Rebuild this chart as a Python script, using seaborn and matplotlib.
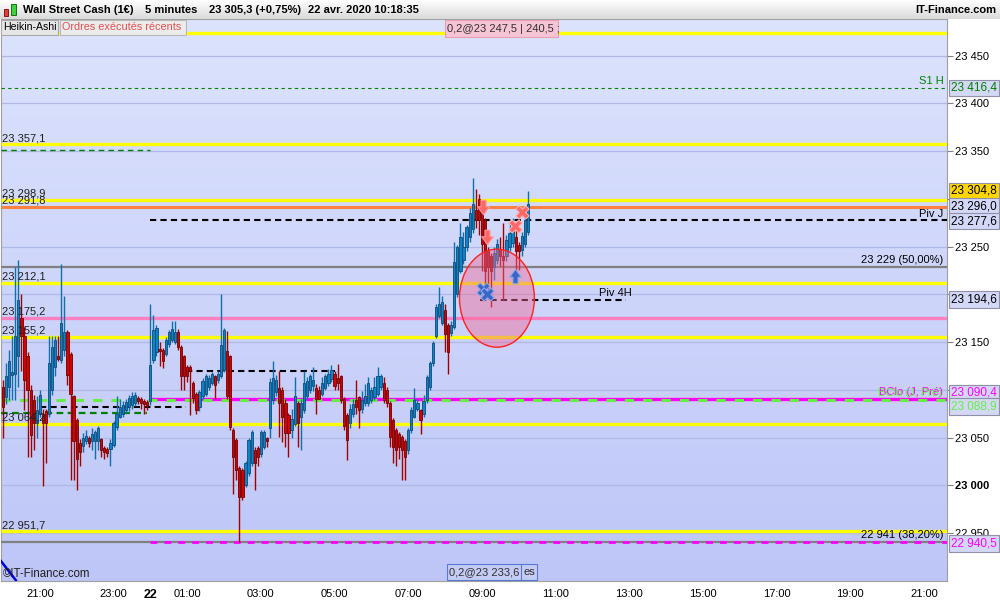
import numpy as np
import pandas as pd
import matplotlib
matplotlib.use("Agg")
import matplotlib.pyplot as plt
import seaborn as sns
from matplotlib.patches import Ellipse, Rectangle
from matplotlib.colors import LinearSegmentedColormap
from matplotlib.path import Path
import matplotlib.transforms as mtransforms

sns.set_style("white")
plt.rcParams['font.family'] = ['Liberation Sans', 'DejaVu Sans']

# ---------------- data (Heikin-Ashi 5-minute candles, 20:00 -> 10:15) ----------------
opens = [23103, 23092, 23103, 23116, 23117, 23135, 23175, 23156, 23135, 23100,
         23089, 23065, 23075, 23075, 23078, 23075, 23100, 23124, 23135, 23131,
         23142, 23161, 23138, 23093, 23068, 23044, 23041, 23046, 23049, 23046,
         23046, 23046, 23048, 23039, 23038, 23038, 23042, 23061, 23072, 23075,
         23079, 23082, 23084, 23086, 23091, 23090, 23088, 23087, 23088, 23131,
         23140, 23143, 23142, 23138, 23148, 23152, 23150, 23161, 23145, 23135,
         23124, 23124, 23107, 23096, 23082, 23093, 23096, 23103, 23107, 23114,
         23110, 23114, 23121, 23141, 23135, 23058, 23047, 23018, 23016, 23000,
         23013, 23023, 23037, 23039, 23033, 23040, 23049, 23060, 23089, 23098,
         23102, 23100, 23086, 23074, 23058, 23064, 23086, 23072, 23079, 23093,
         23100, 23104, 23102, 23100, 23096, 23102, 23107, 23111, 23117, 23112,
         23114, 23090, 23074, 23065, 23075, 23089, 23092, 23080, 23086, 23086,
         23089, 23092, 23096, 23103, 23107, 23100, 23086, 23068, 23058, 23054,
         23051, 23046, 23037, 23058, 23072, 23080, 23079, 23075, 23089, 23103,
         23128, 23156, 23177, 23170, 23184, 23168, 23160, 23166, 23200, 23225,
         23236, 23250, 23260, 23268, 23288, 23300, 23288, 23278, 23247, 23240,
         23229, 23236, 23246, 23240, 23240, 23250, 23254, 23260, 23252, 23247,
         23253, 23265]
closes = [23082, 23114, 23130, 23119, 23156, 23194, 23156, 23110, 23100, 23053,
          23065, 23079, 23095, 23065, 23065, 23128, 23145, 23152, 23132, 23170,
          23161, 23115, 23096, 23046, 23027, 23035, 23049, 23052, 23044, 23054,
          23056, 23060, 23037, 23035, 23034, 23044, 23065, 23075, 23082, 23084,
          23087, 23091, 23093, 23095, 23088, 23086, 23085, 23084, 23126, 23163,
          23165, 23141, 23130, 23152, 23161, 23164, 23161, 23145, 23114, 23114,
          23114, 23120, 23091, 23079, 23098, 23109, 23114, 23112, 23117, 23105,
          23117, 23147, 23163, 23093, 23061, 23030, 23016, 22988, 22988, 23023,
          23047, 23056, 23023, 23030, 23056, 23056, 23046, 23108, 23112, 23110,
          23086, 23072, 23055, 23055, 23069, 23093, 23065, 23086, 23107, 23109,
          23114, 23110, 23090, 23090, 23107, 23114, 23117, 23121, 23104, 23107,
          23089, 23062, 23047, 23080, 23085, 23082, 23079, 23089, 23093, 23107,
          23100, 23103, 23114, 23114, 23089, 23086, 23051, 23040, 23037, 23040,
          23037, 23030, 23058, 23079, 23089, 23086, 23068, 23088, 23113, 23128,
          23149, 23187, 23190, 23192, 23159, 23140, 23168, 23234, 23250, 23260,
          23250, 23271, 23285, 23295, 23278, 23278, 23253, 23225, 23229, 23225,
          23243, 23253, 23240, 23236, 23257, 23264, 23267, 23245, 23245, 23261,
          23278, 23295]
highs = [23110, 23128, 23142, 23156, 23229, 23236, 23200, 23166, 23140, 23105,
         23095, 23093, 23100, 23080, 23080, 23156, 23156, 23156, 23156, 23232,
         23198, 23163, 23140, 23095, 23070, 23048, 23055, 23058, 23052, 23060,
         23058, 23062, 23050, 23041, 23040, 23048, 23067, 23093, 23090, 23088,
         23090, 23095, 23098, 23098, 23094, 23092, 23090, 23089, 23190, 23178,
         23168, 23150, 23144, 23155, 23163, 23172, 23172, 23164, 23147, 23137,
         23126, 23126, 23109, 23098, 23100, 23112, 23117, 23115, 23119, 23116,
         23120, 23200, 23165, 23162, 23137, 23060, 23049, 23020, 23018, 23025,
         23050, 23058, 23040, 23041, 23058, 23058, 23051, 23112, 23130, 23115,
         23120, 23103, 23090, 23076, 23080, 23113, 23088, 23090, 23120, 23113,
         23117, 23124, 23106, 23104, 23113, 23117, 23122, 23126, 23120, 23127,
         23116, 23092, 23076, 23085, 23090, 23110, 23094, 23099, 23106, 23113,
         23103, 23113, 23124, 23117, 23113, 23103, 23088, 23070, 23060, 23056,
         23053, 23048, 23060, 23082, 23102, 23090, 23080, 23095, 23116, 23130,
         23151, 23190, 23208, 23198, 23190, 23170, 23172, 23255, 23252, 23275,
         23265, 23273, 23290, 23322, 23310, 23305, 23295, 23280, 23250, 23243,
         23250, 23258, 23260, 23275, 23262, 23275, 23280, 23270, 23255, 23265,
         23290, 23308]
lows = [23050, 23085, 23089, 23089, 23089, 23103, 23120, 23079, 23030, 23030,
        23037, 23050, 23072, 22999, 23023, 23072, 23095, 23114, 23130, 23128,
        23135, 23105, 23005, 23005, 22995, 23020, 23035, 23043, 23040, 23037,
        23027, 23037, 23030, 23028, 23030, 23020, 23040, 23058, 23070, 23072,
        23076, 23078, 23080, 23083, 23085, 23080, 23075, 23079, 23084, 23128,
        23135, 23125, 23123, 23135, 23145, 23150, 23148, 23142, 23100, 23100,
        23108, 23074, 23086, 23075, 23078, 23090, 23094, 23100, 23105, 23090,
        23107, 23112, 23119, 23090, 23058, 22991, 23005, 22941, 22985, 22998,
        23010, 23020, 22995, 23020, 23030, 23038, 23040, 23050, 23085, 23093,
        23051, 23045, 23040, 23030, 23050, 23062, 23040, 23037, 23076, 23090,
        23097, 23099, 23075, 23090, 23094, 23100, 23104, 23108, 23100, 23100,
        23086, 23058, 23026, 23060, 23072, 23075, 23060, 23076, 23083, 23083,
        23086, 23089, 23094, 23100, 23086, 23082, 23040, 23023, 23020, 23028,
        23005, 23006, 23033, 23055, 23070, 23078, 23054, 23072, 23086, 23100,
        23125, 23154, 23175, 23168, 23140, 23117, 23156, 23164, 23197, 23222,
        23232, 23245, 23255, 23264, 23270, 23262, 23225, 23211, 23195, 23187,
        23215, 23232, 23230, 23194, 23235, 23245, 23250, 23220, 23226, 23240,
        23250, 23262]

tick_pos = [12, 36, 48, 60, 84, 108, 132, 156, 180, 204, 228, 252, 276, 300]
tick_labels = ["21:00", "23:00", "22", "01:00", "03:00", "05:00", "07:00",
               "09:00", "11:00", "13:00", "15:00", "17:00", "19:00", "21:00"]
price_ticks = [22950, 23000, 23050, 23100, 23150, 23200, 23250, 23300, 23350, 23400, 23450]
hidden_price_ticks = [23100, 23200, 23300]   # covered by the price boxes in the original

yellow_levels = [23474.0, 23357.1, 23298.9, 23212.1, 23155.2, 23064.2, 22951.7]
yellow_labeled = [23357.1, 23298.9, 23212.1, 23155.2, 23064.2, 22951.7]
orange_level = 23291.8
pink_level = 23175.2
s1h_level = 23416.4
piv_j = 23277.6
fib50 = 23229.0
fib38 = 22941.0
piv_4h = 23194.6
bclo_mag = 23090.4
bclo_green = 23088.9
mag_dash = 22940.5
black_dash_a = 23120.0
black_dash_b = 23082.0
green_dash_a = 23351.0
green_dash_b = 23076.0
last_price = 23304.8
other_price = 23296.0

sell_arrow_t = [156.4, 157.6]
sell_arrow_p = [23292.0, 23260.0]
sell_cross_t = [166.8, 169.0]
sell_cross_p = [23272.0, 23286.0]
buy_cross_t = [156.4, 157.7]
buy_cross_p = [23206.0, 23200.0]
buy_arrow_t = [166.8]
buy_arrow_p = [23219.0]
trend_t = [-1.0, 4.3]
trend_p = [22922.0, 22900.0]

n = len(opens)
assert len(closes) == n and len(highs) == n and len(lows) == n
df = pd.DataFrame({"t": np.arange(n), "open": opens, "high": highs, "low": lows, "close": closes})
df["up"] = df["close"] >= df["open"]

def fr(v, dec=1):
    s = f"{v:,.{dec}f}"
    return s.replace(",", " ").replace(".", ",")

# ---------------- figure ----------------
W, H = 1000, 600
fig = plt.figure(figsize=(10, 6), dpi=100)
fig.patch.set_facecolor("white")

XMIN, XMAX = -0.65, 307.5
YMIN, YMAX = 22899.7, 23488.5
ax = fig.add_axes([1 / W, 1 - 581 / H, 946 / W, (581 - 19) / H])

grad = np.linspace(0, 1, 256).reshape(-1, 1)
bg_cmap = LinearSegmentedColormap.from_list("bg", ["#dce3fd", "#bec6f8"])
ax.imshow(grad, extent=[XMIN, XMAX, YMIN, YMAX], aspect="auto", cmap=bg_cmap,
          origin="upper", zorder=0, interpolation="bilinear")

for v in price_ticks:
    ax.axhline(v, color="#b0b8e6", lw=0.9, zorder=1)

full = (XMIN, XMAX)
# levels
for v in yellow_levels:
    ax.hlines(v, *full, color="#ffff00", lw=2.4, zorder=3)
ax.hlines(orange_level, *full, color="#ff8040", lw=2.2, zorder=3)
ax.hlines(pink_level, *full, color="#ff80c0", lw=2.4, zorder=3)
ax.hlines(fib50, *full, color="#808080", lw=1.6, zorder=3)
ax.hlines(fib38, *full, color="#808080", lw=1.6, zorder=3)
ax.hlines(s1h_level, *full, color="#008000", lw=0.8, linestyles=(0, (3, 3)), zorder=3)
ax.hlines(green_dash_a, XMIN, 48, color="#008000", lw=1.0, linestyles=(0, (4, 3)), zorder=3)
ax.hlines(green_dash_b, XMIN, 47, color="#008000", lw=1.6, linestyles=(0, (3, 2)), zorder=3)
ax.hlines(black_dash_b, 12, 59.5, color="black", lw=1.5, linestyles=(0, (3, 2)), zorder=3)
ax.hlines(black_dash_a, 59.5, 108, color="black", lw=1.5, linestyles=(0, (3, 2)), zorder=3)
ax.hlines(piv_j, 48, XMAX, color="black", lw=1.5, linestyles=(0, (3, 2)), zorder=3)
ax.hlines(piv_4h, 155.3, 203, color="black", lw=1.5, linestyles=(0, (3, 2)), zorder=3)
ax.hlines(bclo_mag, 48, XMAX, color="#ff00ff", lw=2.4, zorder=3)
ax.hlines(bclo_green, *full, color="#66ee44", lw=2.2, linestyles=(0, (3, 3)), zorder=3)
ax.hlines(mag_dash, 48, XMAX, color="#ff00ff", lw=2.0, linestyles=(0, (2.5, 2.5)), zorder=3)
ax.plot(trend_t, trend_p, color="#0000e0", lw=1.8, zorder=3)

# candles
up = df[df.up]
dn = df[~df.up]
ax.vlines(up.t, up.low, up.high, color="#1070a8", lw=1.0, zorder=4)
ax.vlines(dn.t, dn.low, dn.high, color="#a00000", lw=1.0, zorder=4)
ax.bar(up.t, (up.close - up.open).clip(lower=0.8), bottom=up.open, width=0.72,
       color="#0a84c8", edgecolor="#104a78", linewidth=0.6, zorder=5)
ax.bar(dn.t, (dn.open - dn.close).clip(lower=0.8), bottom=dn.close, width=0.72,
       color="#d40000", edgecolor="#700000", linewidth=0.6, zorder=5)

# ellipse
ax.add_patch(Ellipse((160.9, 23196.0), 24.4, 102.7, facecolor="#f06a94", alpha=0.45,
                     edgecolor="none", zorder=6))
ax.add_patch(Ellipse((160.9, 23196.0), 24.4, 102.7, facecolor="none",
                     edgecolor="#ff2020", lw=1.0, zorder=6))

down_arrow = Path([(-0.35, 1), (0.35, 1), (0.35, 0.1), (0.8, 0.1), (0, -1),
                   (-0.8, 0.1), (-0.35, 0.1), (-0.35, 1)], closed=True)
up_arrow = Path([(-0.35, -1), (0.35, -1), (0.35, -0.1), (0.8, -0.1), (0, 1),
                 (-0.8, -0.1), (-0.35, -0.1), (-0.35, -1)], closed=True)
sns.scatterplot(x=sell_arrow_t, y=sell_arrow_p, marker=down_arrow, s=110, color="#ff6868",
                edgecolor="#ff9a9a", linewidth=0.8, ax=ax, zorder=8)
sns.scatterplot(x=sell_cross_t, y=sell_cross_p, marker="X", s=90, color="#ff6868",
                edgecolor="#ffb0b0", linewidth=0.8, ax=ax, zorder=8)
sns.scatterplot(x=buy_cross_t, y=buy_cross_p, marker="X", s=90, color="#3a66c8",
                edgecolor="#90a8e8", linewidth=0.8, ax=ax, zorder=8)
sns.scatterplot(x=buy_arrow_t, y=buy_arrow_p, marker=up_arrow, s=110, color="#3a66c8",
                edgecolor="#90a8e8", linewidth=0.8, ax=ax, zorder=8)

# left level labels
fs = 8
for v in yellow_labeled + [orange_level, pink_level]:
    ax.text(-0.3, v + 1.2, fr(v), fontsize=fs, color="#202020", ha="left", va="bottom", zorder=9)

# right-end line labels
ax.text(306.3, s1h_level + 1.5, "S1 H", fontsize=fs, color="#008000", ha="right", va="bottom", zorder=9)
ax.text(306.3, piv_j + 1.5, "Piv J", fontsize=fs, color="black", ha="right", va="bottom", zorder=9)
ax.text(306.3, fib50 + 1.5, "23 229 (50,00%)", fontsize=fs, color="black", ha="right", va="bottom", zorder=9)
ax.text(306.3, fib38 + 1.5, "22 941 (38,20%)", fontsize=fs, color="black", ha="right", va="bottom", zorder=9)
ax.text(194, piv_4h + 1.5, "Piv 4H", fontsize=fs, color="black", ha="left", va="bottom", zorder=9)
ax.text(306.3, bclo_mag + 2.0, "BClo (J, Pré)", fontsize=fs, color="#ff00ff", ha="right", va="bottom", zorder=9)
ax.text(305.8, bclo_mag + 1.2, "BClo (J, Pré)", fontsize=fs, color="#66ee44", ha="right", va="bottom", zorder=9)

ax.set_xlim(XMIN, XMAX)
ax.set_ylim(YMIN, YMAX)

# axes styling
ax.yaxis.tick_right()
ax.set_yticks(price_ticks)
ax.set_yticklabels(["" if v in hidden_price_ticks else fr(v, 0) for v in price_ticks], fontsize=fs)
for lab, v in zip(ax.get_yticklabels(), price_ticks):
    if v == 23000:
        lab.set_fontweight("bold")
ax.set_xticks(tick_pos)
ax.set_xticklabels(tick_labels, fontsize=fs)
for lab, t in zip(ax.get_xticklabels(), tick_labels):
    if t == "22":
        lab.set_fontweight("bold")
        lab.set_fontsize(9)
ax.tick_params(axis="both", direction="out", length=4, width=0.8, color="#808080",
               pad=2, labelcolor="black")
ax.tick_params(axis="x", pad=1.5)
for s in ax.spines.values():
    s.set_color("#a0a0a0")
    s.set_linewidth(0.8)
ax.set_xlabel("")
ax.set_ylabel("")

# right price boxes
trans = mtransforms.blended_transform_factory(ax.transAxes, ax.transData)
boxes = [
    (s1h_level, 0.0, "#008000", "#d4d8f8"),
    (last_price, 3.5, "black", "#ffd700"),
    (other_price, -3.5, "black", "#d4d8f8"),
    (piv_j, -1.0, "black", "#d4d8f8"),
    (piv_4h, 0.0, "black", "#d4d8f8"),
    (bclo_mag, 6.5, "#ff00ff", "#d4d8f8"),
    (bclo_green, -6.5, "#66ee44", "#d4d8f8"),
    (mag_dash, -1.5, "#ff00ff", "#d4d8f8"),
]
for v, off, tc, fc in boxes:
    ax.text(1.0045, v + off, fr(v), transform=trans, fontsize=fs + 0.5, color=tc,
            ha="left", va="center", clip_on=False, zorder=20,
            bbox=dict(boxstyle="square,pad=0.18", fc=fc, ec="#9090a8", lw=0.8))

# ---------------- header & overlays (figure pixel coordinates) ----------------
def fx(x):
    return x / W

def fy(y):
    return 1 - y / H

hax = fig.add_axes([0, fy(19), 1, 19 / H])
hax.imshow(grad, aspect="auto", extent=[0, 1, 0, 1], origin="upper",
           cmap=LinearSegmentedColormap.from_list("h", ["#ffffff", "#dadada"]))
hax.set_xlim(0, 1)
hax.set_ylim(0, 1)
hax.axis("off")

fig.add_artist(Rectangle((fx(4), fy(16)), 4 / W, 7 / H, transform=fig.transFigure,
                         fc="#e04040", ec="#800000", lw=0.6))
fig.add_artist(Rectangle((fx(11), fy(15)), 5 / W, 11 / H, transform=fig.transFigure,
                         fc="#40d040", ec="#006000", lw=0.6))
hdr = dict(fontsize=8.0, fontweight="bold", color="black", va="center")
fig.text(fx(23), fy(10), "Wall Street Cash (1€)", **hdr)
fig.text(fx(145), fy(10), "5 minutes", **hdr)
fig.text(fx(209), fy(10), "23 305,3 (+0,75%)", **hdr)
fig.text(fx(308), fy(10), "22 avr. 2020 10:18:35", **hdr)
fig.text(fx(996), fy(10), "IT-Finance.com", ha="right", **hdr)

def px_box(x0, y0, x1, y1, fc, ec):
    fig.add_artist(Rectangle((fx(x0), fy(y1)), (x1 - x0) / W, (y1 - y0) / H,
                             transform=fig.transFigure, fc=fc, ec=ec, lw=0.8, zorder=30))

px_box(1, 20, 58, 35, "#e6e6e6", "#a8a8a8")
fig.text(fx(3.5), fy(27.5), "Heikin-Ashi", fontsize=7.6, color="black", va="center", zorder=31)
px_box(60, 20, 186, 35, "#ececec", "#b8b8b8")
fig.text(fx(62), fy(27.5), "Ordres exécutés récents", fontsize=7.8, color="#e05050",
         va="center", zorder=31)
px_box(445, 20, 558, 37, "#f6c4d4", "#e8a0b4")
fig.text(fx(447), fy(28.5), "0,2@23 247,5 | 240,5 ;", fontsize=8, color="#303030",
         va="center", zorder=31)
px_box(520, 564, 537, 580, "#c4ccf6", "#5a7ad0")
fig.text(fx(523), fy(572), "es", fontsize=8, color="#303030", va="center", zorder=31)
px_box(447, 564, 521, 580, "#c4ccf6", "#5a7ad0")
fig.text(fx(449), fy(572), "0,2@23 233,6", fontsize=8, color="#303030", va="center", zorder=31)
fig.text(fx(3), fy(574), "©IT-Finance.com", fontsize=8.3, color="#202020", va="center", zorder=31)

fig.savefig("out.png", dpi=100)
